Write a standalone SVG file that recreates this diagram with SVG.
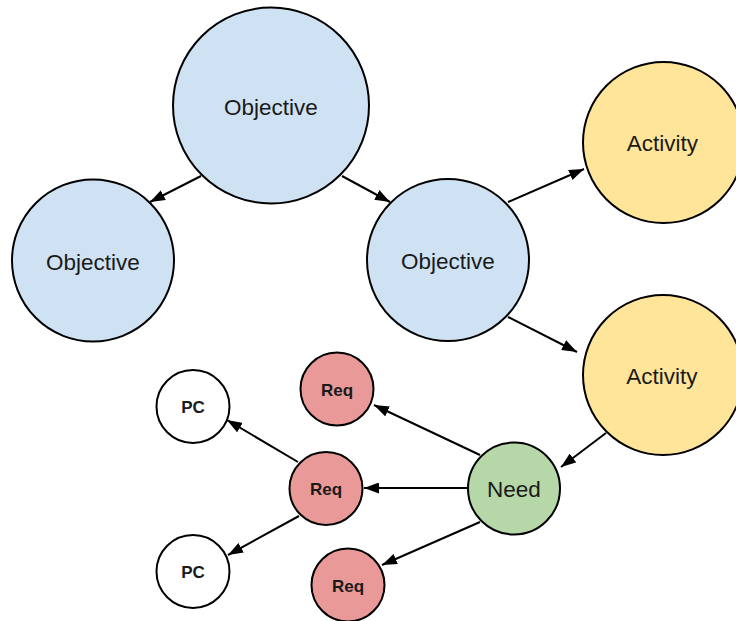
<svg xmlns="http://www.w3.org/2000/svg" width="736" height="621" viewBox="0 0 736 621">
  <defs>
    <marker id="arrow" markerUnits="userSpaceOnUse" markerWidth="15" markerHeight="11" refX="15" refY="5.5" orient="auto">
      <path d="M0,0 L15,5.5 L0,11 z" fill="#000"/>
    </marker>
  </defs>
  <style>
    .node { stroke: #000; stroke-width: 2; }
    .objective { fill: #cfe2f3; }
    .activity { fill: #ffe599; }
    .need { fill: #b6d7a8; }
    .req { fill: #ea9999; }
    .pc { fill: #ffffff; }
    .big { font-family: "Liberation Sans", Arial, sans-serif; font-size: 22.5px; fill: #1a1a1a; text-anchor: middle; }
    .small { font-family: "Liberation Sans", Arial, sans-serif; font-size: 17px; font-weight: bold; fill: #1a1a1a; text-anchor: middle; }
    .edge { stroke: #000; stroke-width: 2; fill: none; marker-end: url(#arrow); }
  </style>
  <rect width="736" height="621" fill="#fff"/>

  <g id="connectors">
    <line class="edge" x1="201" y1="176" x2="150" y2="202"/>
    <line class="edge" x1="342" y1="176" x2="390" y2="202"/>
    <line class="edge" x1="508" y1="202" x2="584" y2="169"/>
    <line class="edge" x1="508" y1="317" x2="577" y2="352"/>
    <line class="edge" x1="606" y1="433" x2="561" y2="467"/>
    <line class="edge" x1="480" y1="455" x2="374" y2="405"/>
    <line class="edge" x1="467" y1="488" x2="364" y2="488"/>
    <line class="edge" x1="480" y1="522" x2="382" y2="565"/>
    <line class="edge" x1="298" y1="462" x2="227" y2="420"/>
    <line class="edge" x1="299" y1="516" x2="228" y2="555"/>
  </g>

  <g id="objective-root">
    <circle class="node objective" cx="271" cy="105.5" r="98"/>
    <text class="big" x="271" y="115">Objective</text>
  </g>
  <g id="objective-left">
    <circle class="node objective" cx="93" cy="260.5" r="81"/>
    <text class="big" x="93" y="269.5">Objective</text>
  </g>
  <g id="objective-mid">
    <circle class="node objective" cx="448" cy="260" r="81"/>
    <text class="big" x="448" y="269">Objective</text>
  </g>
  <g id="activity-top">
    <circle class="node activity" cx="663.5" cy="142.5" r="80.5"/>
    <text class="big" x="662.5" y="150.5">Activity</text>
  </g>
  <g id="activity-bottom">
    <circle class="node activity" cx="663" cy="375" r="80"/>
    <text class="big" x="662" y="383.5">Activity</text>
  </g>
  <g id="need">
    <circle class="node need" cx="514" cy="488.5" r="46"/>
    <text class="big" x="514" y="496.5">Need</text>
  </g>
  <g id="req-top">
    <circle class="node req" cx="337" cy="389" r="36.5"/>
    <text class="small" x="337" y="395.5">Req</text>
  </g>
  <g id="req-mid">
    <circle class="node req" cx="326" cy="488.5" r="36.5"/>
    <text class="small" x="326" y="495">Req</text>
  </g>
  <g id="req-bottom">
    <circle class="node req" cx="348" cy="585" r="36.5"/>
    <text class="small" x="348" y="591.5">Req</text>
  </g>
  <g id="pc-top">
    <circle class="node pc" cx="193" cy="406.5" r="36.5"/>
    <text class="small" x="193" y="412.5">PC</text>
  </g>
  <g id="pc-bottom">
    <circle class="node pc" cx="193" cy="571.5" r="36.5"/>
    <text class="small" x="193" y="577.5">PC</text>
  </g>
</svg>
